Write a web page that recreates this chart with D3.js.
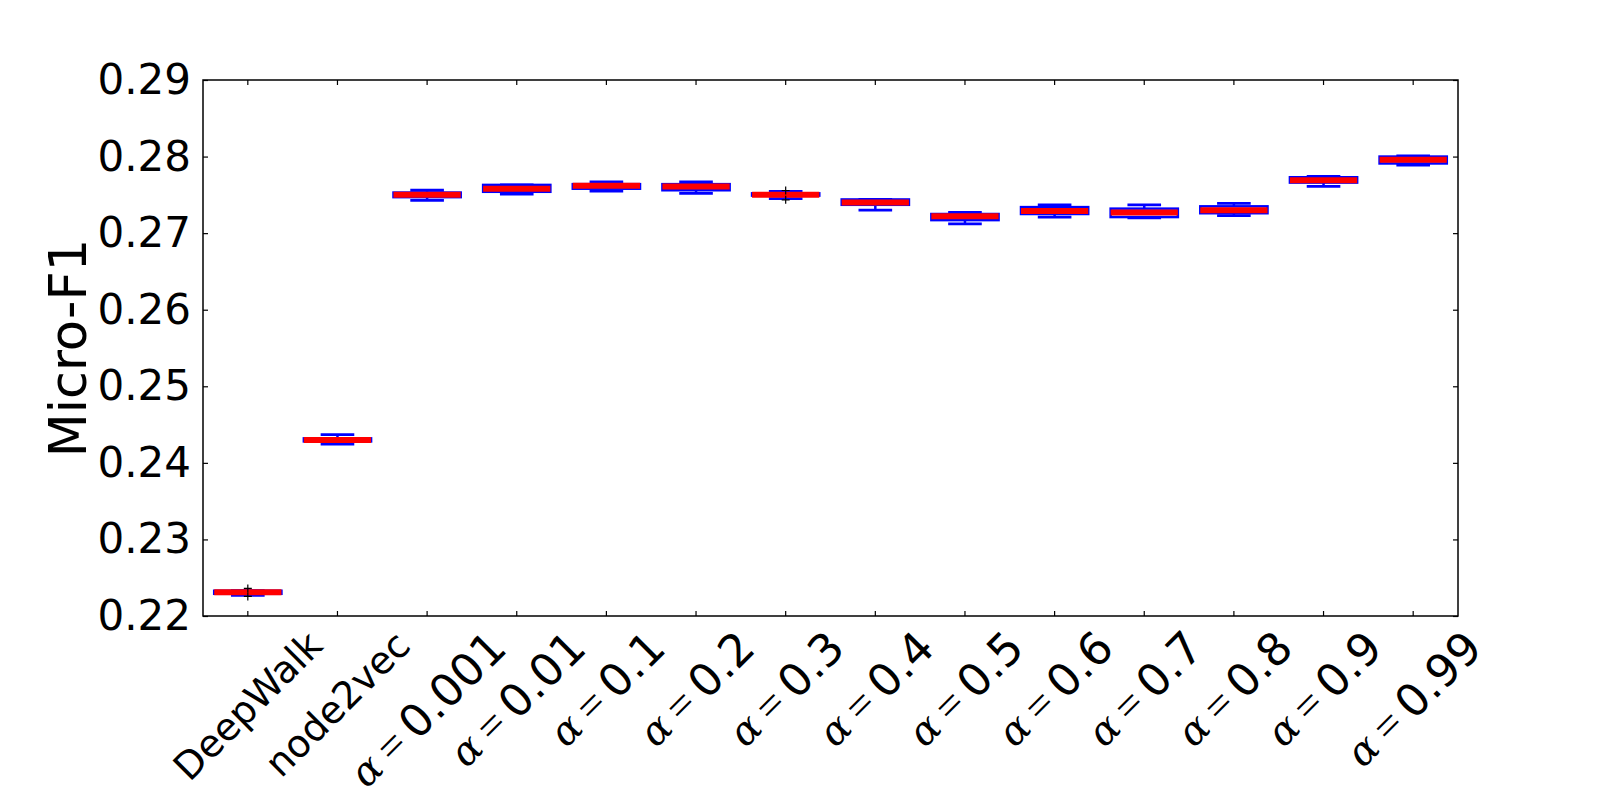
<!DOCTYPE html>
<html><head><meta charset="utf-8">
<script src="https://cdn.jsdelivr.net/npm/d3@7"></script>
<style>body{margin:0;background:#fff}</style>
</head><body><svg id="c" width="1620" height="800"></svg>
<script>
const categories = ["DeepWalk","node2vec","a0.001","a0.01","a0.1","a0.2","a0.3","a0.4","a0.5","a0.6","a0.7","a0.8","a0.9","a0.99"];
const plainLabels = ["DeepWalk","node2vec",null,null,null,null,null,null,null,null,null,null,null,null];
const alphaValues = [null,null,"0.001","0.01","0.1","0.2","0.3","0.4","0.5","0.6","0.7","0.8","0.9","0.99"];
const whisLo = [0.2227,0.24246,0.27429,0.2751,0.2755,0.2752,0.27450,0.2730,0.2712,0.2721,0.2720,0.2723,0.2761,0.2789];
const q1     = [0.2229,0.2428,0.2747,0.2754,0.2758,0.2756,0.2749,0.2737,0.2717,0.2725,0.2721,0.2726,0.2766,0.2791];
const median = [0.2231,0.2430,0.2750,0.2758,0.2762,0.2761,0.2750,0.2740,0.2722,0.2729,0.2727,0.2730,0.2769,0.2796];
const q3     = [0.2233,0.2432,0.2753,0.2763,0.2764,0.2764,0.2752,0.2744,0.2725,0.2734,0.2732,0.2735,0.2773,0.2800];
const whisHi = [0.2233,0.24368,0.2756,0.2763,0.2767,0.2767,0.27545,0.2744,0.2727,0.2737,0.2737,0.2739,0.2774,0.2801];
const fliers = [[0.2236,0.22255],[],[],[],[],[],[0.27557,0.27435],[],[],[],[],[],[],[]];
const yTicks = [0.22,0.23,0.24,0.25,0.26,0.27,0.28,0.29];
const yLabel = "Micro-F1";

const L=203, R=1458, T=80, B=616;
const svg = d3.select("#c");
svg.append("rect").attr("width",1620).attr("height",800).attr("fill","#fff");

const x = d3.scaleBand().domain(categories).range([L,R]).padding(0);
const y = d3.scaleLinear().domain([0.22,0.29]).range([B,T]);
const bw = x.bandwidth();
const cx = c => x(c) + bw/2;
const boxW = 0.75*bw, capW = boxW/2;

// axes (ticks inward, all four sides)
const ax = (g, a) => { g.call(a); g.select(".domain").remove(); g.selectAll(".tick line").attr("stroke","#000").attr("stroke-width",1.2); };
svg.append("g").attr("transform",`translate(${L},0)`)
  .call(g=>ax(g, d3.axisLeft(y).tickValues(yTicks).tickSize(-5).tickPadding(12).tickFormat(d3.format(".2f"))))
  .selectAll("text").attr("font-family","DejaVu Sans").attr("font-size",42).attr("fill","#000");
svg.append("g").attr("transform",`translate(${R},0)`)
  .call(g=>ax(g, d3.axisRight(y).tickValues(yTicks).tickSize(-5).tickFormat("")));
svg.append("g").attr("transform",`translate(0,${B})`).call(g=>ax(g, d3.axisBottom(x).tickSize(-5).tickFormat("")));
svg.append("g").attr("transform",`translate(0,${T})`).call(g=>ax(g, d3.axisTop(x).tickSize(-5).tickFormat("")));

// boxes
const data = categories.map((c,i)=>({c,i,lo:whisLo[i],q1:q1[i],med:median[i],q3:q3[i],hi:whisHi[i],fl:fliers[i]}));
const gB = svg.append("g");
const blue="#0000ff";
data.forEach(d=>{
  const X=cx(d.c);
  gB.append("line").attr("x1",X).attr("x2",X).attr("y1",y(d.q1)).attr("y2",y(d.lo)).attr("stroke",blue).attr("stroke-width",2.5);
  gB.append("line").attr("x1",X).attr("x2",X).attr("y1",y(d.q3)).attr("y2",y(d.hi)).attr("stroke",blue).attr("stroke-width",2.5);
  gB.append("line").attr("x1",X-capW/2).attr("x2",X+capW/2).attr("y1",y(d.lo)).attr("y2",y(d.lo)).attr("stroke",blue).attr("stroke-width",2.8);
  gB.append("line").attr("x1",X-capW/2).attr("x2",X+capW/2).attr("y1",y(d.hi)).attr("y2",y(d.hi)).attr("stroke",blue).attr("stroke-width",2.8);
  gB.append("rect").attr("x",X-boxW/2).attr("width",boxW).attr("y",y(d.q3)).attr("height",Math.max(0,y(d.q1)-y(d.q3)))
    .attr("fill","none").attr("stroke",blue).attr("stroke-width",2.5);
  gB.append("line").attr("x1",X-boxW/2).attr("x2",X+boxW/2).attr("y1",y(d.med)).attr("y2",y(d.med)).attr("stroke","#ff0000").attr("stroke-width",6);
  d.fl.forEach(f=>{
    gB.append("path").attr("d",`M${X-4},${y(f)}H${X+4}M${X},${y(f)-4}V${y(f)+4}`).attr("stroke","#000").attr("stroke-width",1.2).attr("fill","none");
  });
});

// frame
svg.append("rect").attr("x",L).attr("y",T).attr("width",R-L).attr("height",B-T).attr("fill","none").attr("stroke","#000").attr("stroke-width",1.5);

// x labels rotated 45
data.forEach(d=>{
  const plain = !!plainLabels[d.i];
  const fs = plain ? 38 : 40;
  const t = svg.append("text").attr("font-size",fs).attr("fill","#000").attr("text-anchor","middle").attr("dominant-baseline","central");
  if (plain) {
    t.append("tspan").attr("font-family","DejaVu Sans").text(plainLabels[d.i]);
  } else {
    t.append("tspan").attr("font-family","DejaVu Serif").attr("font-style","italic").text("α");
    t.append("tspan").attr("font-family","Liberation Serif").attr("dx",9).attr("font-size",fs*1.1).text("=");
    t.append("tspan").attr("font-family","DejaVu Sans").attr("dx",9).attr("font-size",45).text(alphaValues[d.i]);
  }
  const bb = t.node().getBBox();
  const side = (bb.width + fs)/Math.SQRT2;
  t.attr("transform",`translate(${cx(d.c)},${B+9+side/2}) rotate(-45)`);
});

// y label
svg.append("text").attr("font-family","DejaVu Sans").attr("font-size",51).attr("fill","#000")
  .attr("text-anchor","middle").attr("transform",`translate(86,${(T+B)/2}) rotate(-90)`).text(yLabel);
</script></body></html>
